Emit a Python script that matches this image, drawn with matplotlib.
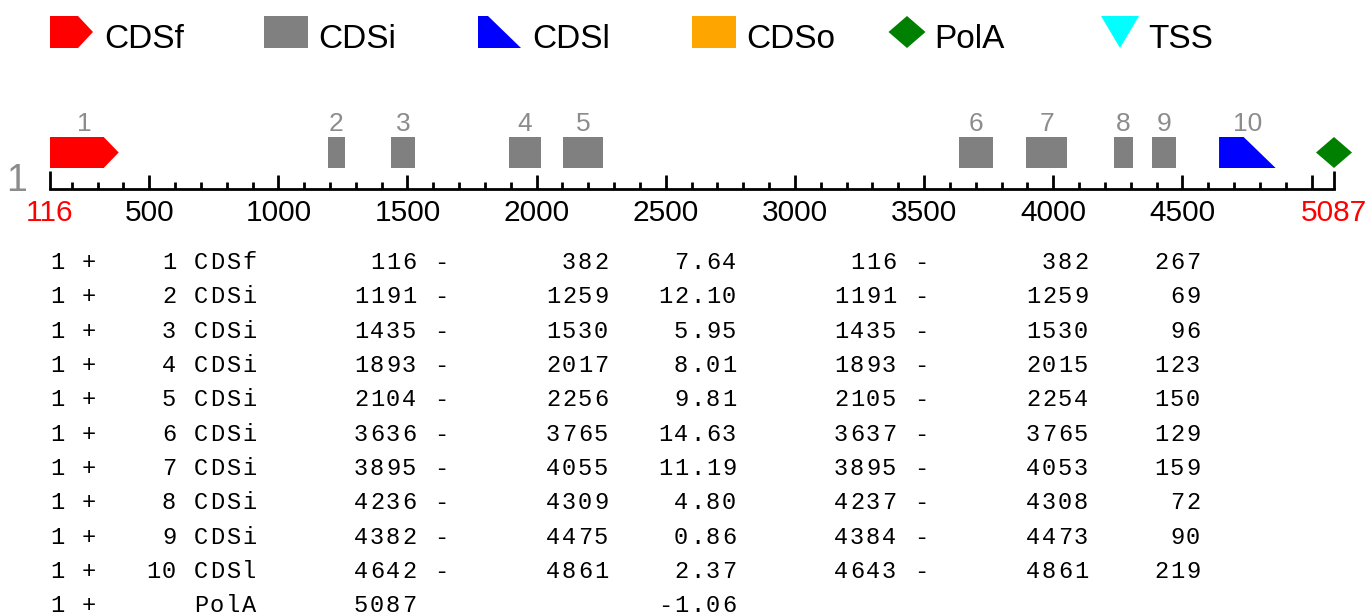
import matplotlib
matplotlib.use('Agg')
import matplotlib.pyplot as plt
from matplotlib.patches import Polygon

plt.rcParams['font.family'] = ['Liberation Sans', 'DejaVu Sans']

# sequence and predicted exons (Genscan-style output)
seq_start = 116
seq_end = 5087
exon_num = [1, 2, 3, 4, 5, 6, 7, 8, 9, 10]
exon_type = ['CDSf', 'CDSi', 'CDSi', 'CDSi', 'CDSi', 'CDSi', 'CDSi', 'CDSi', 'CDSi', 'CDSl']
exon_start = [116, 1191, 1435, 1893, 2104, 3636, 3895, 4236, 4382, 4642]
exon_end = [382, 1259, 1530, 2017, 2256, 3765, 4055, 4309, 4475, 4861]
exon_score = [7.64, 12.10, 5.95, 8.01, 9.81, 14.63, 11.19, 4.80, 0.86, 2.37]
cds_start = [116, 1191, 1435, 1893, 2105, 3637, 3895, 4237, 4384, 4643]
cds_end = [382, 1259, 1530, 2015, 2254, 3765, 4053, 4308, 4473, 4861]
cds_len = [267, 69, 96, 123, 150, 129, 159, 72, 90, 219]
polya_pos = 5087
polya_score = -1.06

legend_names = ['CDSf', 'CDSi', 'CDSl', 'CDSo', 'PolA', 'TSS']
colors = {'CDSf': 'red', 'CDSi': '#808080', 'CDSl': 'blue', 'CDSo': 'orange',
          'PolA': 'green', 'TSS': 'cyan'}

W, H = 1368, 616
fig = plt.figure(figsize=(W / 100, H / 100), dpi=100)

# overlay axes in pixel units for legend / table text
lax = fig.add_axes([0, 0, 1, 1])
lax.set_xlim(0, W)
lax.set_ylim(H, 0)
lax.axis('off')

# ---- legend ----
ytop, ybot = 16, 48
ymid = (ytop + ybot) / 2
text_x = [104, 318, 532, 746, 934, 1148]
for k, name in enumerate(legend_names):
    x0 = 50 + 214 * k
    c = colors[name]
    if name == 'CDSf':
        pts = [(x0, ytop), (x0 + 28, ytop), (x0 + 43, ymid), (x0 + 28, ybot), (x0, ybot)]
    elif name == 'CDSl':
        pts = [(x0, ytop), (x0 + 10, ytop), (x0 + 43, ybot), (x0, ybot)]
    elif name == 'PolA':
        cx = 907
        pts = [(cx - 18.5, ymid), (cx, ytop), (cx + 18.5, ymid), (cx, ybot)]
    elif name == 'TSS':
        pts = [(1101, ytop), (1139, ytop), (1120, ybot)]
    else:
        pts = [(x0, ytop), (x0 + 44, ytop), (x0 + 44, ybot), (x0, ybot)]
    lax.add_patch(Polygon(pts, closed=True, color=c, lw=0))
    lax.text(text_x[k], ybot, name, fontsize=24, va='baseline', ha='left')

# ---- gene track ----
ax_l, ax_r, ax_y, ax_top = 50, 1334, 189, 105
ax = fig.add_axes([ax_l / W, 1 - ax_y / H, (ax_r - ax_l) / W, (ax_y - ax_top) / H])
ax.set_xlim(seq_start, seq_end)
ax.set_ylim(0, ax_y - ax_top)
bp_per_px = (seq_end - seq_start) / (ax_r - ax_l)
tip = 15 * bp_per_px
slant = 32 * bp_per_px
y0, y1 = 21, 52
ym = (y0 + y1) / 2

for n, t, s, e in zip(exon_num, exon_type, exon_start, exon_end):
    c = colors[t]
    if t == 'CDSf':
        pts = [(s, y0), (e - tip, y0), (e, ym), (e - tip, y1), (s, y1)]
    elif t == 'CDSl':
        pts = [(s, y0), (e, y0), (e - slant, y1), (s, y1)]
    else:
        pts = [(s, y0), (e, y0), (e, y1), (s, y1)]
    ax.add_patch(Polygon(pts, closed=True, color=c, lw=0, clip_on=False))
    ax.text((s + e) / 2, y1 + 13, str(n), ha='center', va='center',
            fontsize=19, color='#8c8c8c')

hw = 18 * bp_per_px
ax.add_patch(Polygon([(polya_pos - hw, ym), (polya_pos, y1), (polya_pos + hw, ym), (polya_pos, y0)],
                     closed=True, color=colors['PolA'], lw=0, clip_on=False))

major = [seq_start] + list(range(500, 5001, 500)) + [seq_end]
labels = [str(v) for v in major]
labels[-2] = ''
minor = [v for v in range(200, seq_end, 100) if v % 500 != 0]
ax.set_xticks(major)
ax.set_xticklabels(labels)
ax.set_xticks(minor, minor=True)
ax.set_yticks([])
ax.tick_params(axis='x', which='major', direction='in', length=10, width=2,
               labelsize=21.5, pad=7)
ax.tick_params(axis='x', which='minor', direction='in', length=5, width=2)
mt = ax.xaxis.get_major_ticks()
for tk in (mt[0], mt[-1]):
    tk.tick1line.set_markersize(13)
    tk.label1.set_color('red')
for side in ('top', 'left', 'right'):
    ax.spines[side].set_visible(False)
ax.spines['bottom'].set_linewidth(2)
ax.patch.set_visible(False)

lax.text(17, 191, '1', fontsize=27, color='#8c8c8c', ha='center', va='baseline')

# ---- table ----
rows = []
for n, t, s, e, sc, s2, e2, ln in zip(exon_num, exon_type, exon_start, exon_end,
                                       exon_score, cds_start, cds_end, cds_len):
    rows.append(f"1 + {n:>4} {t:<4} {s:>9} - {e:>9} {sc:>7.2f} {s2:>9} - {e2:>9} {ln:>6}")
rows.append(f"1 + {'':>4} {'PolA':<4} {polya_pos:>9}   {'':>9} {polya_score:>7.2f}")

for i, row in enumerate(rows):
    yb = 269 + 34.33 * i
    for col, ch in enumerate(row):
        if ch != ' ':
            lax.text(57 + 16 * col, yb, ch, ha='center', va='baseline',
                     family='Liberation Mono', fontsize=17)

fig.savefig('out.png', dpi=100)
